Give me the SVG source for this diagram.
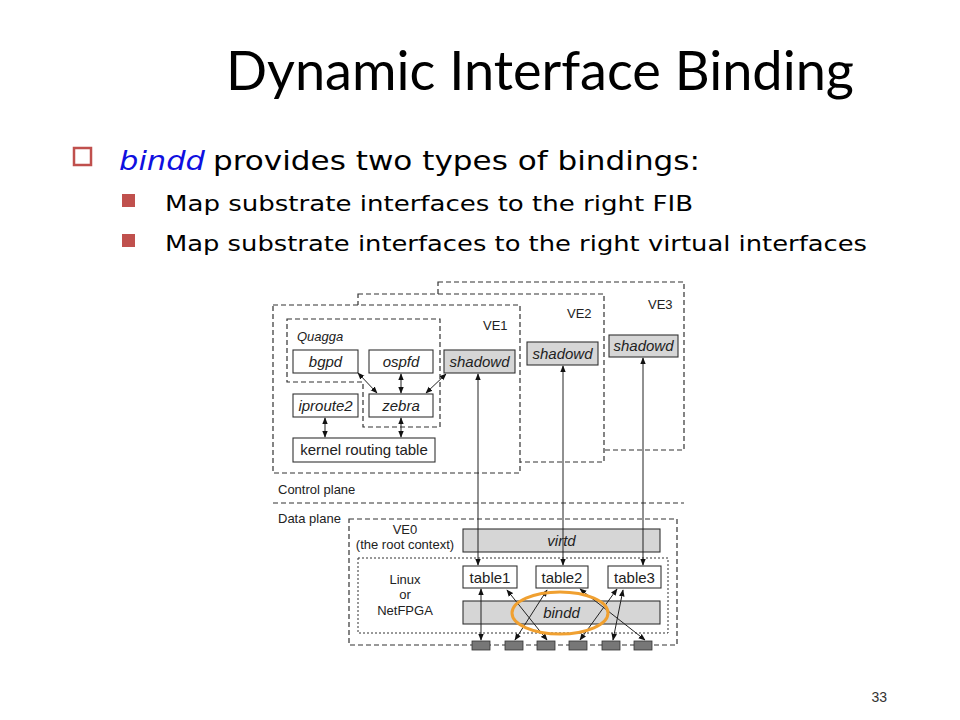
<svg xmlns="http://www.w3.org/2000/svg" width="960" height="720" viewBox="0 0 960 720">
<defs>
<marker id="ah" viewBox="0 0 10 10" refX="9" refY="5" markerWidth="7" markerHeight="7" markerUnits="userSpaceOnUse" orient="auto-start-reverse">
<path d="M0,1 L10,5 L0,9 Z" fill="#111"/>
</marker>
</defs>
<style>
.dash{fill:none;stroke:#333;stroke-width:1.2;stroke-dasharray:5,3}
.dashw{fill:#fff;stroke:#333;stroke-width:1.2;stroke-dasharray:5,3}
.dot{fill:none;stroke:#333;stroke-width:1;stroke-dasharray:2,2}
.box{fill:#fff;stroke:#333;stroke-width:1.1}
.gbox{fill:#d6d6d6;stroke:#333;stroke-width:1.1}
.port{fill:#777;stroke:#333;stroke-width:0.8}
.t{font-family:"Liberation Sans",Arial,sans-serif;font-size:15px;fill:#222;text-anchor:middle}
.ti{font-family:"Liberation Sans",Arial,sans-serif;font-size:15px;fill:#222;text-anchor:middle;font-style:italic}
.s{font-family:"Liberation Sans",Arial,sans-serif;font-size:13px;fill:#222}
.c{stroke:#222;stroke-width:1;fill:none;marker-start:url(#ah);marker-end:url(#ah)}
.bul{font-family:"DejaVu Sans","Liberation Sans",sans-serif;fill:#000}
</style>

<rect width="960" height="720" fill="#fff"/>

<g id="title">
<text x="540" y="90" font-family="Lato,'Open Sans',sans-serif" font-size="54" text-anchor="middle" textLength="628" lengthAdjust="spacingAndGlyphs" fill="#000">Dynamic Interface Binding</text>
</g>

<g id="bullets">
<rect x="74" y="148" width="17" height="17" fill="none" stroke="#c0504d" stroke-width="2.5"/>
<text x="119" y="170" class="bul" font-size="27" font-style="italic" style="fill:#1010e0" textLength="86" lengthAdjust="spacingAndGlyphs">bindd</text>
<text x="213" y="170" class="bul" font-size="27" textLength="487" lengthAdjust="spacingAndGlyphs">provides two types of bindings:</text>
<rect x="122" y="194" width="13" height="13" fill="#c0504d"/>
<text x="165" y="211" class="bul" font-size="22" textLength="528" lengthAdjust="spacingAndGlyphs">Map substrate interfaces to the right FIB</text>
<rect x="122" y="234" width="13" height="13" fill="#c0504d"/>
<text x="165" y="251" class="bul" font-size="22" textLength="702" lengthAdjust="spacingAndGlyphs">Map substrate interfaces to the right virtual interfaces</text>
</g>

<g id="ve3">
<rect x="438" y="282" width="246" height="168" class="dashw"/>
<text x="648" y="309" class="s">VE3</text>
</g>
<g id="ve2">
<rect x="358" y="294" width="246" height="168" class="dashw"/>
<text x="567" y="318" class="s">VE2</text>
</g>
<g id="ve1">
<rect x="273" y="305" width="247" height="168" class="dashw"/>
<text x="483" y="330" class="s">VE1</text>
</g>
<g id="quagga">
<path d="M287,319 H440 V427 H363 V382 H287 Z" class="dash"/>
<text x="297" y="341" class="s" font-style="italic">Quagga</text>
</g>
<g id="bgpd"><rect x="293" y="350" width="65" height="23" class="box"/><text x="325.5" y="367" class="ti">bgpd</text></g>
<g id="ospfd"><rect x="369" y="350" width="64" height="23" class="box"/><text x="401" y="367" class="ti">ospfd</text></g>
<g id="shadowd1"><rect x="444" y="350" width="71" height="23" class="gbox"/><text x="479.5" y="367" class="ti">shadowd</text></g>
<g id="iproute2"><rect x="293" y="394" width="65" height="23" class="box"/><text x="325.5" y="411" class="ti">iproute2</text></g>
<g id="zebra"><rect x="369" y="394" width="64" height="23" class="box"/><text x="401" y="411" class="ti">zebra</text></g>
<g id="kernel"><rect x="293" y="438" width="142" height="24" class="box"/><text x="364" y="455" class="t">kernel routing table</text></g>
<g id="shadowd2"><rect x="527" y="342" width="71" height="23" class="gbox"/><text x="562.5" y="359" class="ti">shadowd</text></g>
<g id="shadowd3"><rect x="609" y="335" width="69" height="22" class="gbox"/><text x="643.5" y="351" class="ti">shadowd</text></g>

<g id="planes">
<text x="278" y="494" class="s">Control plane</text>
<line x1="273" y1="503" x2="684" y2="503" class="dash"/>
<text x="278" y="523" class="s">Data plane</text>
</g>

<g id="ve0">
<rect x="349" y="519" width="328" height="126" class="dash"/>
<text x="405" y="534" class="s" text-anchor="middle">VE0</text>
<text x="405" y="549" class="s" text-anchor="middle">(the root context)</text>
</g>
<g id="virtd"><rect x="463" y="529" width="197" height="23" class="gbox"/><text x="561.5" y="546" class="ti">virtd</text></g>
<g id="linux">
<rect x="358" y="558" width="310" height="75" class="dot"/>
<text x="405" y="584" class="s" text-anchor="middle">Linux</text>
<text x="405" y="599" class="s" text-anchor="middle">or</text>
<text x="405" y="615" class="s" text-anchor="middle">NetFPGA</text>
</g>
<g id="table1"><rect x="463" y="566" width="54" height="22" class="box"/><text x="490" y="583" class="t">table1</text></g>
<g id="table2"><rect x="536" y="566" width="52" height="22" class="box"/><text x="562" y="583" class="t">table2</text></g>
<g id="table3"><rect x="608" y="566" width="53" height="22" class="box"/><text x="634.5" y="583" class="t">table3</text></g>
<g id="bindd"><rect x="463" y="601" width="197" height="23" class="gbox"/><text x="561.5" y="618" class="ti">bindd</text></g>

<g id="ports">
<rect x="472" y="641" width="18" height="9" class="port"/>
<rect x="505" y="641" width="18" height="9" class="port"/>
<rect x="537" y="641" width="18" height="9" class="port"/>
<rect x="569" y="641" width="18" height="9" class="port"/>
<rect x="602" y="641" width="18" height="9" class="port"/>
<rect x="634" y="641" width="18" height="9" class="port"/>
</g>

<g id="connectors">
<line x1="358" y1="373" x2="377" y2="393" class="c"/>
<line x1="401" y1="374" x2="401" y2="393" class="c"/>
<line x1="446" y1="374" x2="426" y2="393" class="c"/>
<line x1="325" y1="418" x2="325" y2="437" class="c"/>
<line x1="401" y1="418" x2="401" y2="437" class="c"/>
<line x1="478" y1="374" x2="478" y2="565" class="c"/>
<line x1="563" y1="366" x2="563" y2="565" class="c"/>
<line x1="643" y1="358" x2="643" y2="565" class="c"/>
<line x1="481" y1="589" x2="481" y2="640" class="c"/>
<line x1="507" y1="590" x2="547" y2="640" class="c"/>
<line x1="547" y1="590" x2="515" y2="640" class="c"/>
<line x1="580" y1="589" x2="645" y2="640" class="c"/>
<line x1="617" y1="589" x2="580" y2="640" class="c"/>
<line x1="623" y1="590" x2="613" y2="640" class="c"/>
</g>

<g id="highlight">
<ellipse cx="560" cy="613" rx="48" ry="21" fill="none" stroke="#f0a030" stroke-width="3"/>
</g>

<g id="page">
<text x="887" y="702" font-family="'Liberation Sans',Arial,sans-serif" font-size="14" fill="#333" text-anchor="end">33</text>
</g>
</svg>
